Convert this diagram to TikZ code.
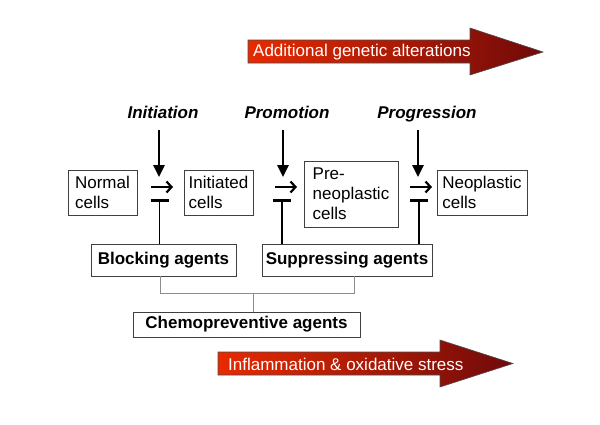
\documentclass[tikz,border=0pt]{standalone}
\usepackage{fontspec}
\setmainfont{Liberation Sans}
\usetikzlibrary{positioning,arrows.meta}
\definecolor{arrowlight}{RGB}{232,42,0}
\definecolor{arrowdark}{RGB}{112,10,10}

\begin{document}
\begin{tikzpicture}[x=1pt,y=-1pt,font=\fontsize{17}{20}\selectfont,
    cell/.style={rectangle,draw=black!75,line width=0.8pt,align=left,inner sep=0pt},
    agent/.style={rectangle,draw=black!75,line width=0.8pt,font=\fontsize{17}{20}\selectfont\bfseries,inner sep=0pt},
    stage/.style={anchor=base,font=\fontsize{17}{20}\selectfont\bfseries\itshape},
    push/.style={line width=2.5pt,-{Triangle[length=12pt,width=11pt]}},
    step arrow/.style={line width=2.2pt,-{Straight Barb[length=5pt,width=11pt]}},
    inhib/.style={line width=1.6pt,-{Bar[width=18pt,line width=3pt]}},
    bracket/.style={draw=black!45,line width=1pt},
    bigarrow/.style={left color=arrowlight,right color=arrowdark,draw=black!70,line width=0.6pt}]
  \useasboundingbox (0,0) rectangle (600,424);

  \shade[bigarrow] (248,40) -- (470,40) -- (470,28) -- (543,52) -- (470,75) -- (470,63) -- (248,63) -- cycle;
  \node[anchor=west,text=white,inner sep=0pt] (gen) at (253,52) {Additional genetic alterations};
  \shade[bigarrow] (218,352) -- (440,352) -- (440,340) -- (513,363.5) -- (440,387) -- (440,375) -- (218,375) -- cycle;
  \node[anchor=west,text=white,inner sep=0pt] (infl) at (228,364) {Inflammation \& oxidative stress};

  \node[cell,minimum width=69pt,minimum height=45pt] (normal) at (102.5,192.5) {Normal\\cells};
  \node[cell,minimum width=69pt,minimum height=45pt] (init) at (218.5,192.5) {Initiated\\cells};
  \node[cell,minimum width=94pt,minimum height=66pt] (pre) at (351,194) {Pre-\\neoplastic\\cells};
  \node[cell,minimum width=90pt,minimum height=45pt] (neo) at (482,192.5) {Neoplastic\\cells};

  \node[stage] (tinit) at (163,118) {Initiation};
  \node[stage] (tprom) at (287,118) {Promotion};
  \node[stage] (tprog) at (427,118) {Progression};

  \node[agent,minimum width=145pt,minimum height=32pt] (block) at (163.5,260) {Blocking agents};
  \node[agent,minimum width=170pt,minimum height=32pt] (supp) at (347,260) {Suppressing agents};
  \node[agent,minimum width=227pt,minimum height=25pt] (chemo) at (246.5,324.5) {Chemopreventive agents};

  \foreach \n/\x in {a/159,b/283,c/418} {
    \coordinate (u\n) at (\x,130);
    \coordinate (d\n) at (\x,177);
    \coordinate (s\n) at (\x-8,187);
    \coordinate (e\n) at (\x+14,187);
  }
  \coordinate (ta) at (159.5,199);
  \coordinate (tb) at (282,199);
  \coordinate (tc) at (419,199);

  \draw[push] (ua) -- (da);
  \draw[push] (ub) -- (db);
  \draw[push] (uc) -- (dc);
  \draw[step arrow] (sa) -- (ea);
  \draw[step arrow] (sb) -- (eb);
  \draw[step arrow] (sc) -- (ec);

  \draw[inhib] (block.north -| ta) -- (ta);
  \draw[inhib] (supp.north -| tb) -- (tb);
  \draw[inhib] (supp.north -| tc) -- (tc);

  \coordinate (j1) at (160,293);
  \coordinate (j2) at (354,293);
  \coordinate (jm) at (253,293);
  \draw[bracket] (block.south -| j1) -- (j1) -- (j2) -- (supp.south -| j2);
  \draw[bracket] (jm) -- (chemo.north -| jm);
\end{tikzpicture}
\end{document}
